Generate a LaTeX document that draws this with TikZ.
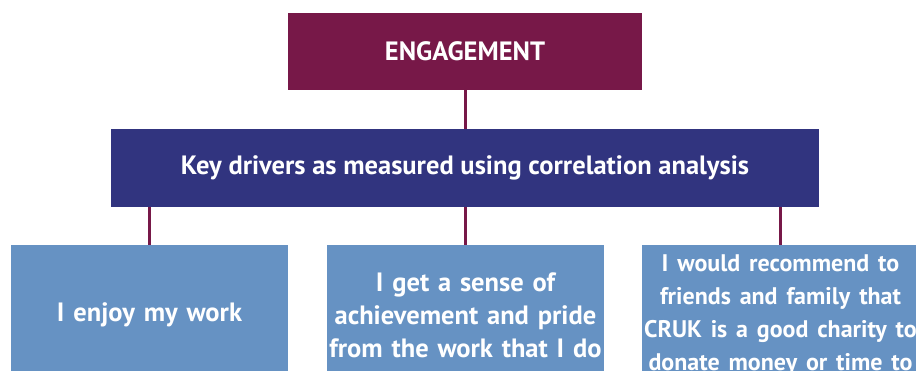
\documentclass[tikz,border=0pt]{standalone}
\usepackage{fontspec}
\setmainfont{PT Sans}
\usepackage{tikz}
\definecolor{plum}{HTML}{771848}
\definecolor{navy}{HTML}{31347F}
\definecolor{steel}{HTML}{6692C3}
\tikzset{basic/.style={rectangle,text=white,font=\bfseries\fontsize{26.5}{33}\selectfont,
                       align=center,inner sep=0pt}}
\tikzset{top/.style={basic,fill=plum,minimum width=354pt,minimum height=77pt}}
\tikzset{drivers/.style={basic,fill=navy,minimum width=708pt,minimum height=78pt}}
\tikzset{item/.style={basic,fill=steel,minimum width=277pt,minimum height=140pt,text width=277pt}}
\tikzset{link/.style={draw=plum,line width=3pt}}

\begin{document}
\begin{tikzpicture}[x=1pt,y=-1pt]
    \clip (0,0) rectangle (916,370);
    \useasboundingbox (0,0) rectangle (916,370);

    % engagement
    \node[top] (eng) at (465,51.5) {ENGAGEMENT};
    % key drivers
    \node[drivers] (drv) at (465,168) {Key drivers as measured using correlation analysis};

    \draw[link] (eng) -- (drv);

    % statements
    \foreach \h/\x [count=\hi ] in {I enjoy my work/149.5,
        I get a sense of\\achievement and pride\\from the work that I do/465.5,
        {\fontsize{24}{33}\selectfont I would recommend to\\friends and family that\\CRUK is a good charity to\\donate money or time to}/780.5}{%
      \node[item] (s\hi) at (\x,315) {\h};
      \draw[link] (drv.south -| s\hi.north) -- (s\hi.north);
    }
\end{tikzpicture}
\end{document}
